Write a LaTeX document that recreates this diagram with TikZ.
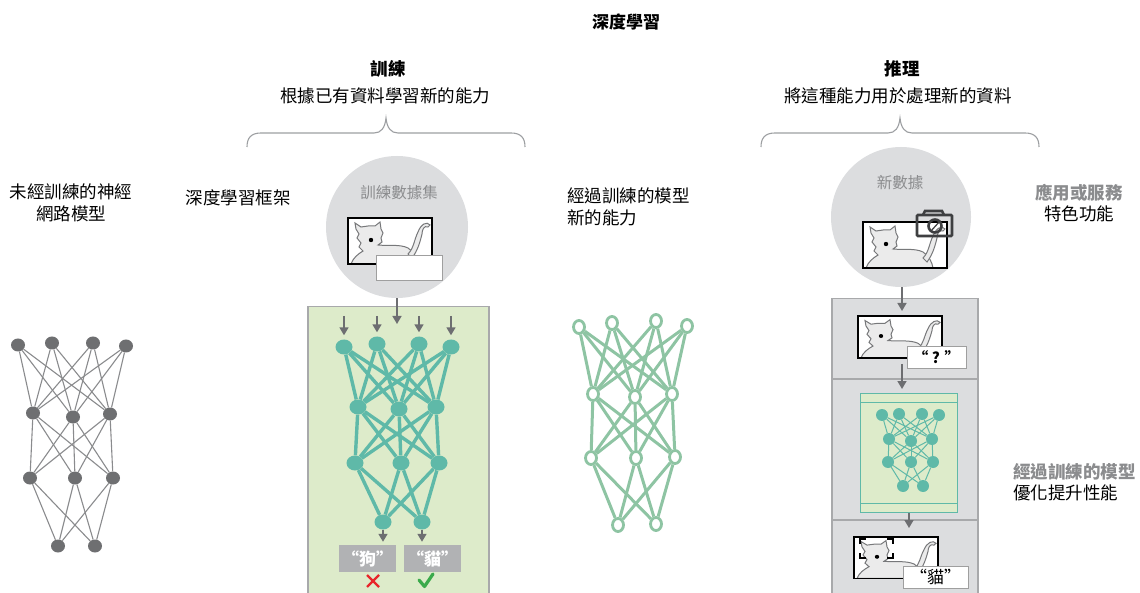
\documentclass[tikz,border=0pt]{standalone}
\usepackage{fontspec}
\setmainfont{Noto Sans CJK TC}
\usetikzlibrary{arrows.meta,shapes.geometric}
\pgfdeclarelayer{bg}
\pgfdeclarelayer{edges}
\pgfsetlayers{bg,edges,main}

\definecolor{tealnode}{HTML}{5FB9A8}
\definecolor{sage}{HTML}{8EC4A3}
\definecolor{panelgreen}{HTML}{DDEBCA}
\definecolor{circgray}{HTML}{DCDDDF}
\definecolor{netgray}{HTML}{6E6F71}
\definecolor{edgegray}{HTML}{8A8B8D}
\definecolor{arrowgray}{HTML}{6D6E71}
\definecolor{labelgray}{HTML}{B1B2B4}
\definecolor{textgray}{HTML}{8B8C8E}
\definecolor{bracegray}{HTML}{9D9FA2}
\definecolor{bordergray}{HTML}{A8A9AB}
\definecolor{xred}{HTML}{E8262B}
\definecolor{checkgreen}{HTML}{3BAA4B}
\definecolor{camgray}{HTML}{3E3F41}
\definecolor{catfill}{HTML}{EBEBEB}
\definecolor{catline}{HTML}{77787A}

\tikzset{
  catphoto/.pic={
    \fill[white] (0,0) rectangle (84,46);
    % body and head
    \filldraw[fill=catfill, draw=catline, line width=1]
      (3,46) .. controls (5,40) and (10,36) .. (15,33) -- (11,29) -- (13,25)
      -- (9,20) -- (11,16) -- (8,11) -- (7,5) -- (13,9) -- (20,8) -- (27,8)
      -- (32,4) -- (33,11) -- (35,15) -- (33,20) -- (34,24) -- (30,27)
      .. controls (40,28) and (52,26) .. (60,30)
      .. controls (66,34) and (69,40) .. (70,46) -- cycle;
    % tail
    \filldraw[fill=catfill, draw=catline, line width=1]
      (60,36) .. controls (66,30) and (66,22) .. (70,14)
      .. controls (73,6) and (79,3) .. (82,7) -- (80,9)
      .. controls (76,7) and (74,12) .. (74,16)
      .. controls (72,24) and (70,32) .. (64,40) -- cycle;
    % eye
    \fill[black] (23,22) circle[radius=2.2pt];
    \draw[black, line width=1.4] (0,0) rectangle (84,46);
  }
}

\begin{document}
\begin{tikzpicture}[x=1pt,y=-1pt,
  txt/.style={font=\fontsize{17.5}{21.5}\selectfont, inner sep=0pt, align=center},
  boldtxt/.style={txt, font=\fontsize{17.5}{21.5}\selectfont\bfseries},
  graytxt/.style={txt, text=textgray, font=\fontsize{15.5}{19}\selectfont},
  brace/.style={draw=bracegray, line width=1.1},
  arr/.style={draw=arrowgray, line width=1.5, -{Triangle[width=9pt,length=8pt]}},
  gnode/.style={ellipse, fill=netgray, minimum width=14pt, minimum height=13pt, inner sep=0pt},
  gedge/.style={draw=edgegray, line width=1.1},
  tnode/.style={ellipse, fill=tealnode, minimum width=17pt, minimum height=15pt, inner sep=0pt},
  tedge/.style={draw=tealnode, line width=3.4},
  mnode/.style={ellipse, draw=sage, fill=white, line width=2.8, minimum width=11pt, minimum height=13pt, inner sep=0pt},
  medge/.style={draw=sage, line width=3},
  inode/.style={circle, fill=tealnode, minimum size=12pt, inner sep=0pt},
  iedge/.style={draw=tealnode, line width=1},
  photolabel/.style={draw=gray!75, fill=white, line width=1, inner sep=0pt},
  answer/.style={fill=labelgray, text=white, inner sep=0pt, minimum width=57pt, minimum height=27pt,
                 font=\fontsize{17}{20}\selectfont\bfseries},
  section/.style={draw=bordergray, fill=circgray, line width=1.5, anchor=north west, inner sep=0pt, minimum width=146pt}
]
\useasboundingbox (0,0) rectangle (1140,593);

% ---------- headings ----------
\node[boldtxt, font=\fontsize{17}{20}\selectfont\bfseries] (title) at (626,22) {深度學習};
\node[boldtxt] (trainhead) at (388,69) {訓練};
\node[txt] (trainsub) at (385,96) {根據已有資料學習新的能力};
\node[boldtxt] (inferhead) at (902,69) {推理};
\node[txt] (infersub) at (898,96) {將這種能力用於處理新的資料};

\draw[brace] (247,147) .. controls (247,138) and (251,133) .. (261,133) -- (374,133)
  .. controls (381,133) and (385,128) .. (386,118) .. controls (387,128) and (391,133) .. (398,133)
  -- (511,133) .. controls (521,133) and (525,138) .. (525,147);
\draw[brace] (761,147) .. controls (761,138) and (765,133) .. (775,133) -- (888,133)
  .. controls (895,133) and (899,128) .. (900,118) .. controls (901,128) and (905,133) .. (912,133)
  -- (1025,133) .. controls (1035,133) and (1039,138) .. (1039,147);

% ---------- side captions ----------
\node[txt] (untrained) at (71,203) {未經訓練的神經\\網路模型};
\node[txt] (framework) at (238,198) {深度學習框架};
\node[txt, align=left, anchor=west] (trained) at (567,207) {經過訓練的模型\\新的能力};
\node[txt] (service) at (1079,203) {\textcolor{textgray}{\bfseries 應用或服務}\\特色功能};
\node[txt, align=left, anchor=west] (optim) at (1013,482) {\textcolor{textgray}{\bfseries 經過訓練的模型}\\優化提升性能};

% ---------- backgrounds ----------
\begin{pgfonlayer}{bg}
  \node[circle, fill=circgray, minimum size=142pt, inner sep=0pt] (c1) at (397,227) {};
  \node[circle, fill=circgray, minimum size=140pt, inner sep=0pt] (c2) at (901,217) {};
  \node[draw=bordergray, fill=panelgreen, line width=1.5, anchor=north west, inner sep=0pt,
        minimum width=181pt, minimum height=292pt] (trainpanel) at (307,306) {};
  \node[section, minimum height=80pt] (sec1) at (831,298) {};
  \node[section, minimum height=141pt] (sec2) at (831,378) {};
  \node[section, minimum height=80pt] (sec3) at (831,519) {};
  \node[draw=tealnode, fill=panelgreen, line width=1, anchor=north west, inner sep=0pt,
        minimum width=97pt, minimum height=119pt] (innerbox) at (860,393) {};
  \draw[tealnode, line width=1] ([yshift=-9pt]innerbox.north west) -- ([yshift=-9pt]innerbox.north east);
  \draw[tealnode, line width=1] ([yshift=10pt]innerbox.south west) -- ([yshift=10pt]innerbox.south east);
\end{pgfonlayer}

% ---------- training data ----------
\node[graytxt] (setlabel) at (399,193) {訓練數據集};
\pic at (348,218) {catphoto};
\node[photolabel, minimum width=66pt, minimum height=25pt] (blank) at (409,268.5) {};

% ---------- new data ----------
\node[graytxt] (newlabel) at (900,183) {新數據};
\pic at (863,222) {catphoto};
\draw[camgray, line width=2.6, rounded corners=1pt] (917,215) rectangle (952,236);
\draw[camgray, line width=2.6] (923,215) -- (925,211) -- (942,211) -- (944,215);
\draw[camgray, line width=2.6] (935,226) circle[radius=6.5pt];
\draw[camgray, line width=1.2] (931,231) -- (940,221);

% ---------- untrained network (gray) ----------
\foreach \n/\x/\y in {11/18/345, 12/52/343, 13/93/343, 14/126/346,
                      21/33/413, 22/73/417, 23/110/414,
                      31/30/478, 32/75/478, 33/113/478,
                      41/58/546, 42/95/546}
  \node[gnode] (g\n) at (\x,\y) {};

% ---------- network under training (teal) ----------
\foreach \n/\x/\y in {11/344/347, 12/377/344, 13/419/344, 14/451/347,
                      21/358/407, 22/399/409, 23/436/407,
                      31/355/463, 32/401/463, 33/439/463,
                      41/383/522, 42/422/522}
  \node[tnode] (t\n) at (\x,\y) {};

% ---------- trained network (rings) ----------
\foreach \n/\x/\y in {11/579/327, 12/612/323, 13/656/321, 14/687/326,
                      21/593/394, 22/635/397, 23/672/394,
                      31/591/458, 32/636/458, 33/675/457,
                      41/618/525, 42/656/524}
  \node[mnode] (m\n) at (\x,\y) {};

% ---------- optimised network in the service ----------
\foreach \n/\x/\y in {11/882/415, 12/899/414, 13/922/414, 14/939/415,
                      21/889/439, 22/911/441, 23/932/439,
                      31/888/462, 32/911/462, 33/933/462,
                      41/903/486, 42/923/486}
  \node[inode] (i\n) at (\x,\y) {};

% ---------- all layer-to-layer links ----------
\begin{pgfonlayer}{edges}
  \foreach \p/\s in {g/gedge, t/tedge, m/medge, i/iedge}{
    \foreach \a in {1,...,4}
      \foreach \b in {1,2,3}
        \draw[\s] (\p1\a) -- (\p2\b);
    \foreach \a in {1,2,3}
      \foreach \b in {1,2,3}
        \draw[\s] (\p2\a) -- (\p3\b);
    \foreach \a in {1,2,3}
      \foreach \b in {1,2}
        \draw[\s] (\p3\a) -- (\p4\b);
  }
\end{pgfonlayer}

% ---------- training arrows and answers ----------
\coordinate (c1in) at (397,324);
\draw[arr] (c1.south) -- (c1in);
\foreach \k/\x in {1/344, 2/377, 3/419, 4/451}{
  \coordinate (in\k) at (\x,316);
  \draw[arr, shorten >=4pt] (in\k) -- (t1\k);
}
\node[answer] (dog) at (367.5,558.5) {“狗”};
\node[answer] (cat) at (432.5,558.5) {“貓”};
\draw[arr, shorten >=3pt] (t41) -- (t41 |- dog.north);
\draw[arr, shorten >=3pt] (t42) -- (t42 |- cat.north);
\draw[xred, line width=2.4] (367,575) -- (379,587) (379,575) -- (367,587);
\draw[checkgreen, line width=3.2, line cap=round, line join=round] (419,580) -- (424.5,586.5) -- (433,574);

% ---------- inference steps ----------
\coordinate (q1top) at (902,311);
\draw[arr] (c2.south -| q1top) -- (q1top);
\pic[yscale=0.91] at (858,316) {catphoto};
\node[photolabel, minimum width=59pt, minimum height=21pt, font=\fontsize{15}{18}\selectfont\bfseries] (qlabel) at (936.5,357.5) {“ ? ”};
\coordinate (a2s) at (902,364);
\coordinate (a2e) at (902,389);
\draw[arr] (a2s) -- (a2e);
\coordinate (a3e) at (909,528);
\draw[arr] (innerbox.south -| a3e) -- (a3e);
\pic[yscale=0.9] at (854,537) {catphoto};
\draw[black, line width=1.1] (860,544) -- (860,539) -- (866,539)
  (887,539) -- (893,539) -- (893,544)
  (860,553) -- (860,558) -- (866,558)
  (887,558) -- (893,558) -- (893,553);
\node[photolabel, minimum width=65pt, minimum height=22pt, font=\fontsize{17}{20}\selectfont] (catlabel) at (935.5,577) {“貓”};
\end{tikzpicture}
\end{document}
